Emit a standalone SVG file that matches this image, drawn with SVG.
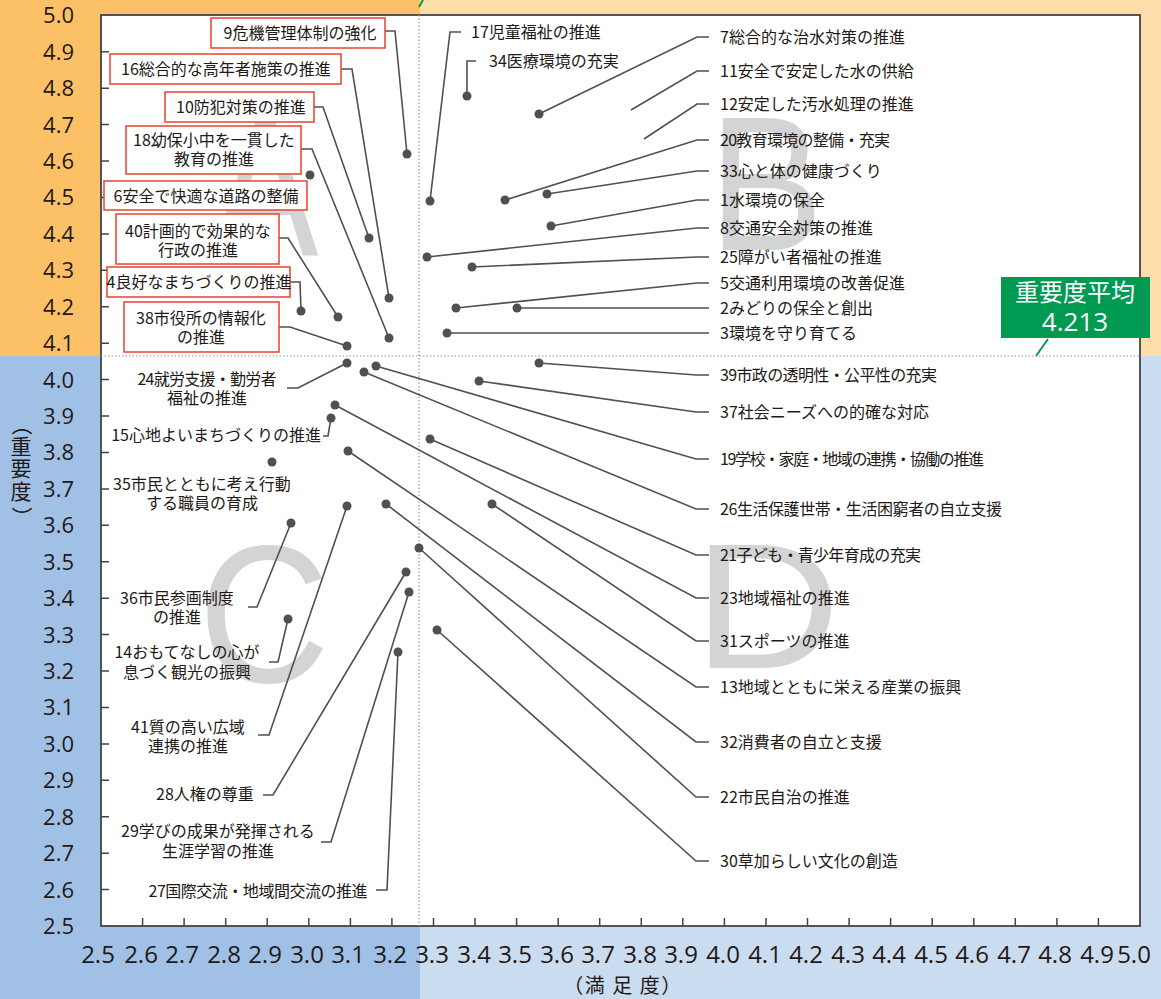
<svg xmlns="http://www.w3.org/2000/svg" width="1161" height="999" viewBox="0 0 1161 999">
<defs><style>
.t{font-family:"Noto Sans CJK JP","Noto Sans",sans-serif;font-size:16px;fill:#231815}
.c{text-anchor:middle}
.e{text-anchor:end}
.bx{fill:#fff;stroke:#E8412C;stroke-width:1.5}
.ld{fill:none;stroke:#505050;stroke-width:1.6}
.dt{fill:#505050}
.ax{font-family:"Open Sans","Noto Sans",sans-serif;font-size:24px;fill:#231815;text-anchor:middle}
.ay{font-family:"Open Sans","Noto Sans",sans-serif;font-size:22px;fill:#231815;text-anchor:end}
.yt{font-family:"Noto Sans CJK JP",sans-serif;font-size:21px;fill:#231815;text-anchor:middle}
.wm{font-family:"Liberation Sans",sans-serif;fill:#D3D4D5;text-anchor:middle}
.tk{stroke:#444;stroke-width:1.5;fill:none}
.dl{stroke:#999;stroke-width:1.2;stroke-dasharray:1.5 2}
</style></defs>
<g id="background">
<rect x="0" y="0" width="420" height="356" fill="#FCC166"/>
<rect x="420" y="0" width="741" height="356" fill="#FDDEAA"/>
<rect x="0" y="356" width="420" height="643" fill="#A0C1E5"/>
<rect x="420" y="356" width="741" height="643" fill="#CADCEF"/>
<line x1="419" y1="7" x2="423" y2="0" stroke="#00A040" stroke-width="2"/>
<rect x="101" y="15" width="1039" height="911" fill="#fff" stroke="#444" stroke-width="1.8"/>
</g>
<g id="watermarks">
<text class="wm" font-size="200" transform="translate(265,255) scale(0.8,1)">A</text>
<text class="wm" font-size="191" transform="translate(766,250) scale(0.9,1)">B</text>
<text class="wm" font-size="196" transform="translate(264,682) scale(0.93,1)">C</text>
<text class="wm" font-size="178" transform="translate(767,668) scale(1.15,1)">D</text>
</g>
<g id="axes">
<line class="dl" x1="101" y1="356" x2="1140" y2="356"/>
<line class="dl" x1="419" y1="15" x2="419" y2="926"/>
<path class="tk" d="M101,51.7h8M101,88.2h8M101,124.6h8M101,161h8M101,197.5h8M101,233.9h8M101,270.3h8M101,306.7h8M101,343.2h8M101,379.6h8M101,416h8M101,452.5h8M101,488.9h8M101,525.3h8M101,561.8h8M101,598.2h8M101,634.6h8M101,671h8M101,707.5h8M101,743.9h8M101,780.3h8M101,816.8h8M101,853.2h8M101,889.6h8"/>
<path class="tk" d="M142.6,926v-8M184.1,926v-8M225.7,926v-8M267.2,926v-8M308.8,926v-8M350.4,926v-8M391.9,926v-8M433.5,926v-8M475,926v-8M516.6,926v-8M558.2,926v-8M599.7,926v-8M641.3,926v-8M682.8,926v-8M724.4,926v-8M766,926v-8M807.5,926v-8M849.1,926v-8M890.6,926v-8M932.2,926v-8M973.8,926v-8M1015.3,926v-8M1056.9,926v-8M1098.4,926v-8"/>
<text class="ay" x="74" y="23">5.0</text>
<text class="ay" x="74" y="60">4.9</text>
<text class="ay" x="74" y="96">4.8</text>
<text class="ay" x="74" y="133">4.7</text>
<text class="ay" x="74" y="169">4.6</text>
<text class="ay" x="74" y="205">4.5</text>
<text class="ay" x="74" y="242">4.4</text>
<text class="ay" x="74" y="278">4.3</text>
<text class="ay" x="74" y="315">4.2</text>
<text class="ay" x="74" y="351">4.1</text>
<text class="ay" x="74" y="388">4.0</text>
<text class="ay" x="74" y="424">3.9</text>
<text class="ay" x="74" y="460">3.8</text>
<text class="ay" x="74" y="497">3.7</text>
<text class="ay" x="74" y="533">3.6</text>
<text class="ay" x="74" y="570">3.5</text>
<text class="ay" x="74" y="606">3.4</text>
<text class="ay" x="74" y="643">3.3</text>
<text class="ay" x="74" y="679">3.2</text>
<text class="ay" x="74" y="715">3.1</text>
<text class="ay" x="74" y="752">3.0</text>
<text class="ay" x="74" y="788">2.9</text>
<text class="ay" x="74" y="825">2.8</text>
<text class="ay" x="74" y="861">2.7</text>
<text class="ay" x="74" y="898">2.6</text>
<text class="ay" x="74" y="934">2.5</text>
<text class="ax" x="98" y="963">2.5</text>
<text class="ax" x="141" y="963">2.6</text>
<text class="ax" x="182" y="963">2.7</text>
<text class="ax" x="224" y="963">2.8</text>
<text class="ax" x="265" y="963">2.9</text>
<text class="ax" x="307" y="963">3.0</text>
<text class="ax" x="348" y="963">3.1</text>
<text class="ax" x="390" y="963">3.2</text>
<text class="ax" x="432" y="963">3.3</text>
<text class="ax" x="474" y="963">3.4</text>
<text class="ax" x="515" y="963">3.5</text>
<text class="ax" x="557" y="963">3.6</text>
<text class="ax" x="598" y="963">3.7</text>
<text class="ax" x="640" y="963">3.8</text>
<text class="ax" x="681" y="963">3.9</text>
<text class="ax" x="723" y="963">4.0</text>
<text class="ax" x="765" y="963">4.1</text>
<text class="ax" x="806" y="963">4.2</text>
<text class="ax" x="848" y="963">4.3</text>
<text class="ax" x="889" y="963">4.4</text>
<text class="ax" x="931" y="963">4.5</text>
<text class="ax" x="972" y="963">4.6</text>
<text class="ax" x="1014" y="963">4.7</text>
<text class="ax" x="1055" y="963">4.8</text>
<text class="ax" x="1097" y="963">4.9</text>
<text class="ax" x="1134" y="963">5.0</text>
<text class="t c" x="623" y="993" style="font-size:20px;letter-spacing:1.5px">（満 足 度）</text>
<g id="ytitle">
<text class="yt" transform="translate(21,425) rotate(90)" x="0" y="7">（</text>
<text class="yt" x="21" y="454">重</text>
<text class="yt" x="21" y="476">要</text>
<text class="yt" x="21" y="499">度</text>
<text class="yt" transform="translate(21,517) rotate(90)" x="0" y="7">）</text>
</g>
</g>
<g id="connectors">
<path class="ld" d="M385,31H395L407,154"/>
<path class="ld" d="M341,69H352L389,298"/>
<path class="ld" d="M314,107H323L369,238"/>
<path class="ld" d="M301,149H312L389,338"/>
<path class="ld" d="M279,238H288L338,317"/>
<path class="ld" d="M290,282H300L301,311"/>
<path class="ld" d="M279,327H290L347,346"/>
<path class="ld" d="M461,32H450L430,201"/>
<path class="ld" d="M476,61H467V96"/>
<path class="ld" d="M539,114L697,37H709"/>
<path class="ld" d="M631,110L697,71H709"/>
<path class="ld" d="M644,139L697,104H709"/>
<path class="ld" d="M505,200L697,140H709"/>
<path class="ld" d="M547,194L697,171H709"/>
<path class="ld" d="M551,226L697,200H709"/>
<path class="ld" d="M427,257L697,228H709"/>
<path class="ld" d="M472,267L697,257H709"/>
<path class="ld" d="M456,308L697,283H709"/>
<path class="ld" d="M517,308H709"/>
<path class="ld" d="M447,333H709"/>
<path class="ld" d="M539,363L696,375H709"/>
<path class="ld" d="M479,381L696,412H709"/>
<path class="ld" d="M376,366L696,459H709"/>
<path class="ld" d="M364,372L696,509H709"/>
<path class="ld" d="M430,439L696,555H709"/>
<path class="ld" d="M335,405L696,598H709"/>
<path class="ld" d="M492,504L696,641H709"/>
<path class="ld" d="M348,451L696,687H709"/>
<path class="ld" d="M386,504L696,742H709"/>
<path class="ld" d="M419,548L696,797H709"/>
<path class="ld" d="M437,630L696,861H709"/>
<path class="ld" d="M287,388H298L347,363"/>
<path class="ld" d="M323,436H328L331,418"/>
<path class="ld" d="M248,607H257L291,523"/>
<path class="ld" d="M269,662H278L288,619"/>
<path class="ld" d="M258,735H269L347,506"/>
<path class="ld" d="M263,795H273L406,572"/>
<path class="ld" d="M321,842H331L409,592"/>
<path class="ld" d="M376,890H387L398,652"/>
<line x1="1048" y1="339" x2="1036" y2="356" stroke="#009A53" stroke-width="2"/>
</g>
<g id="n9"><rect class="bx" x="211" y="18" width="174" height="30"/><text class="t c" x="300" y="39">9危機管理体制の強化</text><circle class="dt" cx="407" cy="154" r="4.5"/></g>
<g id="n16"><rect class="bx" x="110" y="54" width="231" height="30"/><text class="t c" x="226" y="75">16総合的な高年者施策の推進</text><circle class="dt" cx="389" cy="298" r="4.5"/></g>
<g id="n10"><rect class="bx" x="165" y="92" width="149" height="30"/><text class="t c" x="241" y="113">10防犯対策の推進</text><circle class="dt" cx="369" cy="238" r="4.5"/></g>
<g id="n18"><rect class="bx" x="126" y="126" width="175" height="48"/><text class="t c" x="214" y="146">18幼保小中を一貫した</text><text class="t c" x="214" y="165">教育の推進</text><circle class="dt" cx="389" cy="338" r="4.5"/></g>
<g id="n6"><rect class="bx" x="104" y="181" width="203" height="29"/><text class="t c" x="206" y="202">6安全で快適な道路の整備</text><circle class="dt" cx="310" cy="175" r="4.5"/></g>
<g id="n40"><rect class="bx" x="116" y="214" width="163" height="50"/><text class="t c" x="198" y="237">40計画的で効果的な</text><text class="t c" x="198" y="256">行政の推進</text><circle class="dt" cx="338" cy="317" r="4.5"/></g>
<g id="n4"><rect class="bx" x="107" y="267" width="183" height="30"/><text class="t c" x="199" y="288">4良好なまちづくりの推進</text><circle class="dt" cx="301" cy="311" r="4.5"/></g>
<g id="n38"><rect class="bx" x="124" y="302" width="155" height="50"/><text class="t c" x="201" y="324">38市役所の情報化</text><text class="t c" x="201" y="343">の推進</text><circle class="dt" cx="347" cy="346" r="4.5"/></g>
<g id="n17"><text class="t" x="471" y="38">17児童福祉の推進</text><circle class="dt" cx="430" cy="201" r="4.5"/></g>
<g id="n34"><text class="t" x="489" y="67">34医療環境の充実</text><circle class="dt" cx="467" cy="96" r="4.5"/></g>
<g id="n7"><text class="t" x="720" y="43">7総合的な治水対策の推進</text><circle class="dt" cx="539" cy="114" r="4.5"/></g>
<g id="n11"><text class="t" x="720" y="77">11安全で安定した水の供給</text></g>
<g id="n12"><text class="t" x="720" y="110">12安定した汚水処理の推進</text></g>
<g id="n20"><text class="t" x="720" y="146" textLength="170" lengthAdjust="spacing">20教育環境の整備・充実</text><circle class="dt" cx="505" cy="200" r="4.5"/></g>
<g id="n33"><text class="t" x="720" y="177">33心と体の健康づくり</text><circle class="dt" cx="547" cy="194" r="4.5"/></g>
<g id="n1"><text class="t" x="720" y="206">1水環境の保全</text><circle class="dt" cx="551" cy="226" r="4.5"/></g>
<g id="n8"><text class="t" x="720" y="234">8交通安全対策の推進</text><circle class="dt" cx="427" cy="257" r="4.5"/></g>
<g id="n25"><text class="t" x="720" y="263">25障がい者福祉の推進</text><circle class="dt" cx="472" cy="267" r="4.5"/></g>
<g id="n5"><text class="t" x="720" y="289">5交通利用環境の改善促進</text><circle class="dt" cx="456" cy="308" r="4.5"/></g>
<g id="n2"><text class="t" x="720" y="314">2みどりの保全と創出</text><circle class="dt" cx="517" cy="308" r="4.5"/></g>
<g id="n3"><text class="t" x="720" y="339">3環境を守り育てる</text><circle class="dt" cx="447" cy="333" r="4.5"/></g>
<g id="n39"><text class="t" x="720" y="381" textLength="217" lengthAdjust="spacing">39市政の透明性・公平性の充実</text><circle class="dt" cx="539" cy="363" r="4.5"/></g>
<g id="n37"><text class="t" x="720" y="418">37社会ニーズへの的確な対応</text><circle class="dt" cx="479" cy="381" r="4.5"/></g>
<g id="n19"><text class="t" x="720" y="465" textLength="264" lengthAdjust="spacing">19学校・家庭・地域の連携・協働の推進</text><circle class="dt" cx="376" cy="366" r="4.5"/></g>
<g id="n26"><text class="t" x="720" y="515" textLength="282" lengthAdjust="spacing">26生活保護世帯・生活困窮者の自立支援</text><circle class="dt" cx="364" cy="372" r="4.5"/></g>
<g id="n21"><text class="t" x="720" y="561" textLength="201" lengthAdjust="spacing">21子ども・青少年育成の充実</text><circle class="dt" cx="430" cy="439" r="4.5"/></g>
<g id="n23"><text class="t" x="720" y="604">23地域福祉の推進</text><circle class="dt" cx="335" cy="405" r="4.5"/></g>
<g id="n31"><text class="t" x="720" y="647">31スポーツの推進</text><circle class="dt" cx="492" cy="504" r="4.5"/></g>
<g id="n13"><text class="t" x="720" y="693">13地域とともに栄える産業の振興</text><circle class="dt" cx="348" cy="451" r="4.5"/></g>
<g id="n32"><text class="t" x="720" y="748">32消費者の自立と支援</text><circle class="dt" cx="386" cy="504" r="4.5"/></g>
<g id="n22"><text class="t" x="720" y="803">22市民自治の推進</text><circle class="dt" cx="419" cy="548" r="4.5"/></g>
<g id="n30"><text class="t" x="720" y="867">30草加らしい文化の創造</text><circle class="dt" cx="437" cy="630" r="4.5"/></g>
<g id="n24"><text class="t c" x="207" y="385" textLength="139" lengthAdjust="spacing">24就労支援・勤労者</text><text class="t c" x="207" y="404">福祉の推進</text><circle class="dt" cx="347" cy="363" r="4.5"/></g>
<g id="n15"><text class="t e" x="321" y="441">15心地よいまちづくりの推進</text><circle class="dt" cx="331" cy="418" r="4.5"/></g>
<g id="n35"><text class="t c" x="202" y="490">35市民とともに考え行動</text><text class="t c" x="202" y="509">する職員の育成</text><circle class="dt" cx="272" cy="462" r="4.5"/></g>
<g id="n36"><text class="t c" x="177" y="604">36市民参画制度</text><text class="t c" x="177" y="623">の推進</text><circle class="dt" cx="291" cy="523" r="4.5"/></g>
<g id="n14"><text class="t c" x="187" y="658">14おもてなしの心が</text><text class="t c" x="187" y="678">息づく観光の振興</text><circle class="dt" cx="288" cy="619" r="4.5"/></g>
<g id="n41"><text class="t c" x="188" y="733">41質の高い広域</text><text class="t c" x="188" y="752">連携の推進</text><circle class="dt" cx="347" cy="506" r="4.5"/></g>
<g id="n28"><text class="t c" x="205" y="800">28人権の尊重</text><circle class="dt" cx="406" cy="572" r="4.5"/></g>
<g id="n29"><text class="t c" x="218" y="837">29学びの成果が発揮される</text><text class="t c" x="218" y="857">生涯学習の推進</text><circle class="dt" cx="409" cy="592" r="4.5"/></g>
<g id="n27"><text class="t c" x="258" y="897" textLength="219" lengthAdjust="spacing">27国際交流・地域間交流の推進</text><circle class="dt" cx="398" cy="652" r="4.5"/></g>
<g id="avg"><rect x="1001" y="277" width="149" height="61" fill="#009A53"/><text class="t c" x="1075" y="301" style="font-size:24px;fill:#fff">重要度平均</text><text class="c" x="1075" y="331" style="font-family:'Open Sans','Noto Sans',sans-serif;font-size:26px;fill:#fff">4.213</text></g>
</svg>
